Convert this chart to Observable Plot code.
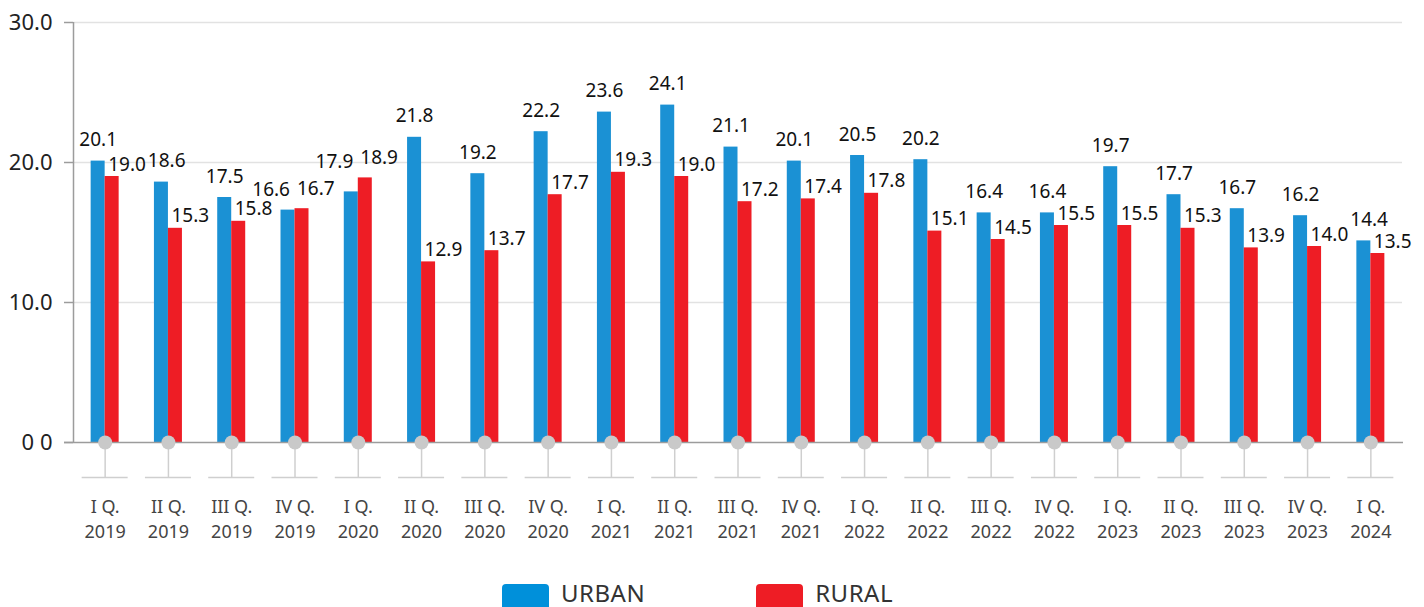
<!DOCTYPE html>
<html>
<head>
<meta charset="utf-8">
<script src="https://cdn.jsdelivr.net/npm/d3@7"></script>
<script src="https://cdn.jsdelivr.net/npm/@observablehq/plot@0.6"></script>
<style>
  body { margin: 0; background: #fff; font-family: "Noto Sans", sans-serif; }
  #chart svg { display: block; }
  .legend { display: flex; align-items: flex-start; padding-left: 502px; margin-top: 14px; height: 23px; }
  .item { display: flex; align-items: flex-start; }
  .sw { width: 47px; height: 26px; border-radius: 4px; margin-right: 12px; }
  .lab { font-size: 24px; color: #333; line-height: 24px; margin-top: -3px; letter-spacing: 0.5px; }
</style>
</head>
<body>
<div id="chart"></div>
<div class="legend">
  <div class="item" style="margin-right:111px"><div class="sw" style="background:#0090da"></div><div class="lab">URBAN</div></div>
  <div class="item"><div class="sw" style="background:#ee1d25"></div><div class="lab">RURAL</div></div>
</div>
<script>
const quarters = ["I Q.", "II Q.", "III Q.", "IV Q.", "I Q.", "II Q.", "III Q.", "IV Q.", "I Q.", "II Q.", "III Q.", "IV Q.", "I Q.", "II Q.", "III Q.", "IV Q.", "I Q.", "II Q.", "III Q.", "IV Q.", "I Q."];
const years = ["2019", "2019", "2019", "2019", "2020", "2020", "2020", "2020", "2021", "2021", "2021", "2021", "2022", "2022", "2022", "2022", "2023", "2023", "2023", "2023", "2024"];
const urban = [20.1, 18.6, 17.5, 16.6, 17.9, 21.8, 19.2, 22.2, 23.6, 24.1, 21.1, 20.1, 20.5, 20.2, 16.4, 16.4, 19.7, 17.7, 16.7, 16.2, 14.4];
const rural = [19.0, 15.3, 15.8, 16.7, 18.9, 12.9, 13.7, 17.7, 19.3, 19.0, 17.2, 17.4, 17.8, 15.1, 14.5, 15.5, 15.5, 15.3, 13.9, 14.0, 13.5];
const yTicks = [0, 10, 20, 30];

const BLUE = "#1b91d4";
const RED = "#ee1d25";
const FONT = "Noto Sans";

const rows = quarters.map((q, i) => ({
  cat: q + "\n" + years[i], q, yr: years[i], urban: urban[i], rural: rural[i]
}));
const cats = rows.map(d => d.cat);

const W = 1424, H = 570, ML = 73, MR = 22, MT = 22, MB = 128;
const bw = (W - ML - MR) / cats.length;
const barW = 14;
const FS = 19;
const yMax = 30;
const pxPerUnit = (H - MT - MB) / yMax;

// label layout (simple collision avoidance, like the original chart's labeller)
const textW = s => [...s].reduce((w, ch) => w + (ch === "." ? 0.268 : 0.572) * FS, 0);
const labels = [];
rows.forEach((d, i) => {
  const c = ML + bw * (i + 0.5);
  const close = d.urban - d.rural < 0.5;
  const bText = d.urban.toFixed(1), rText = d.rural.toFixed(1);
  const bw_ = textW(bText), rw_ = textW(rText);
  const bTop = MT + (yMax - d.urban) * pxPerUnit;
  const rTop = MT + (yMax - d.rural) * pxPerUnit;
  let b, r;
  if (close) {
    const bBase = Math.min(bTop - 14, rTop - 10);
    b = { d, key: "urban", text: bText, anchor: "end", dx: -5, off: bTop - bBase, left: c - 5 - bw_, right: c - 5, base: bBase };
    r = { d, key: "rural", text: rText, anchor: "start", dx: 2, off: 14, left: c + 2, right: c + 2 + rw_, base: rTop - 14 };
  } else {
    b = { d, key: "urban", text: bText, anchor: "middle", dx: -barW / 2, off: 15, left: c - barW / 2 - bw_ / 2, right: c - barW / 2 + bw_ / 2, base: bTop - 15 };
    r = { d, key: "rural", text: rText, anchor: "start", dx: 3, off: 6, left: c + 3, right: c + 3 + rw_, base: rTop - 6 };
    // avoid the previous group's red label
    const prev = labels[labels.length - 1];
    if (prev) {
      const capH = 0.72 * FS;
      const vOverlap = !(b.base < prev.base - capH - 4 || b.base - capH - 4 > prev.base);
      if (vOverlap && b.left < prev.right + 2) {
        const shift = prev.right + 2 - b.left;
        b.dx += shift; b.left += shift; b.right += shift;
      }
    }
  }
  labels.push(b, r);
});

const labelMarks = labels.map(l => Plot.text([l.d], {
  x: "cat", y: l.key, text: () => l.text, textAnchor: l.anchor,
  dx: l.dx, dy: -l.off - 0.32 * FS, fontSize: FS, fill: "#111", fontFamily: FONT
}));

const plot = Plot.plot({
  width: W, height: H,
  marginLeft: ML, marginRight: MR, marginTop: MT, marginBottom: MB,
  style: { fontFamily: FONT, background: "white", overflow: "visible" },
  x: { domain: cats, padding: 0, round: false, axis: null },
  y: { domain: [0, yMax], axis: null },
  marks: [
    Plot.gridY([10, 20, 30], { stroke: "#e2e2e2", strokeOpacity: 1, strokeWidth: 1.5 }),
    Plot.barY(rows, { x: "cat", y: "urban", fill: BLUE, insetLeft: bw / 2 - barW, insetRight: bw / 2 }),
    Plot.barY(rows, { x: "cat", y: "rural", fill: RED, insetLeft: bw / 2, insetRight: bw / 2 - barW }),
    Plot.ruleY([0], { stroke: "#9c9c9c", strokeWidth: 1.5, insetLeft: -9, insetRight: -1 }),
    Plot.ruleX([cats[0]], { x: d => d, y1: 0, y2: yMax, dx: -bw / 2, stroke: "#9c9c9c", strokeWidth: 1.5 }),
    Plot.axisY({
      ticks: yTicks, tickSize: 9, tickPadding: 12, fontSize: 22, fontFamily: FONT,
      stroke: "#9c9c9c", fill: "#222", strokeWidth: 1.5,
      tickFormat: d => d === 0 ? "0 0" : d.toFixed(1)
    }),
    Plot.ruleX(rows, { x: "cat", y1: 0, y2: -2.5, stroke: "#cfcfcf", strokeWidth: 1.5 }),
    Plot.tickY(rows, { x: "cat", y: () => -2.5, inset: (bw - 46) / 2, stroke: "#cfcfcf", strokeWidth: 1.5 }),
    Plot.dot(rows, { x: "cat", y: () => 0, r: 7, fill: "#c9c9c9", stroke: "none" }),
    Plot.text(rows, {
      x: "cat", y: () => 0, text: d => d.q + "\n" + d.yr, lineAnchor: "top",
      dy: 53, fontSize: 18, fill: "#444", lineHeight: 25 / 18, fontFamily: FONT
    }),
    ...labelMarks
  ]
});
document.getElementById("chart").appendChild(plot);
</script>
</body>
</html>
